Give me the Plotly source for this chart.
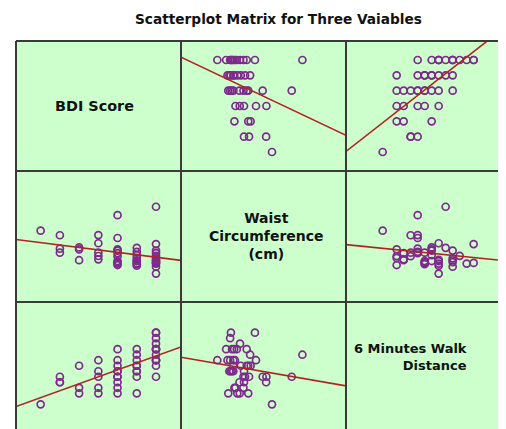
import numpy as np
import plotly.graph_objects as go

# ---- data ----
bdi = [1,
       2, 2, 2,
       3, 3, 3,
       4, 4, 4, 4, 4,
       5, 5, 5, 5, 5, 5, 5, 5, 5, 5,
       6, 6, 6, 6, 6, 6, 6, 6, 6,
       7, 7, 7, 7, 7, 7, 7, 7, 7, 7, 7, 7, 7]
waist = [94.5,
         92.3, 84.0, 85.9,
         85.6, 80.4, 86.5,
         82.4, 80.8, 92.4, 84.0, 88.5,
         78.1, 83.8, 82.3, 101.9, 91.0, 80.0, 85.6, 78.8, 85.0, 79.4,
         81.5, 84.4, 79.0, 82.8, 77.8, 86.3, 80.3, 80.0, 78.5,
         83.8, 85.0, 74.0, 80.0, 105.9, 77.3, 81.3, 82.5, 78.8, 88.1, 79.5, 80.6, 79.1]
walk = [320,
        400, 400, 420,
        360, 380, 460,
        360, 380, 420, 440, 480,
        360, 380, 400, 420, 420, 440, 460, 480, 520, 440,
        360, 420, 440, 460, 480, 500, 520, 460, 440,
        420, 460, 480, 480, 500, 520, 520, 540, 560, 580, 520, 480, 580]

title_text = "Scatterplot Matrix for Three Vaiables"

# ---- layout geometry (image pixel coords; page body adds an 8px offset) ----
OFF = 8
W, H = 498, 421
GRID_L, GRID_T = 16, 41
GRID_R, GRID_B = OFF + W, OFF + H
ML, MT = GRID_L - OFF, GRID_T - OFF
PW, PH = GRID_R - GRID_L, GRID_B - GRID_T


def px_to_paper_x(px):
    return (px - GRID_L) / PW


def py_to_paper_y(py):
    return (GRID_B - py) / PH


col_px = [(16, 181), (181, 346), (346, GRID_R)]
row_py = [(41, 171), (171, 302), (302, GRID_B)]

x_ranges = [[-0.283, 8.30], [60.375, 122.25], [215.2, 672.4]]
y_ranges = [[-0.241, 8.239], [60.46, 122.96], [230.5, 691.2]]

data_vars = [np.array(bdi, float), np.array(waist, float), np.array(walk, float)]

fig = go.Figure()
PURPLE = "#7E2A8C"
RED = "#B22222"
GREEN = "#CCFFCC"

# green background of whole matrix (diagonal panels included)
fig.add_shape(type="rect", xref="paper", yref="paper", x0=0, x1=1, y0=0, y1=1,
              fillcolor=GREEN, line=dict(width=0), layer="below")

for r in range(3):
    for c in range(3):
        idx = r * 3 + c + 1
        xa = "x" if idx == 1 else f"x{idx}"
        ya = "y" if idx == 1 else f"y{idx}"
        xname = "xaxis" if idx == 1 else f"xaxis{idx}"
        yname = "yaxis" if idx == 1 else f"yaxis{idx}"
        fig.layout[xname] = dict(
            domain=[px_to_paper_x(col_px[c][0]), px_to_paper_x(col_px[c][1])],
            range=x_ranges[c], showgrid=False, zeroline=False,
            showticklabels=False, ticks="", showline=False, anchor=ya,
        )
        fig.layout[yname] = dict(
            domain=[py_to_paper_y(row_py[r][1]), py_to_paper_y(row_py[r][0])],
            range=y_ranges[r], showgrid=False, zeroline=False,
            showticklabels=False, ticks="", showline=False, anchor=xa,
        )
        if r == c:
            continue
        xv = data_vars[c]
        yv = data_vars[r]
        fig.add_trace(go.Scatter(
            x=xv, y=yv, mode="markers", xaxis=xa, yaxis=ya,
            marker=dict(symbol="circle-open", size=7, color=PURPLE,
                        line=dict(width=1.7, color=PURPLE)),
            showlegend=False, hoverinfo="skip"))
        slope, icpt = np.polyfit(xv, yv, 1)
        lx = np.array(x_ranges[c])
        fig.add_trace(go.Scatter(
            x=lx, y=icpt + slope * lx, mode="lines", xaxis=xa, yaxis=ya,
            line=dict(color=RED, width=1.6), showlegend=False,
            hoverinfo="skip"))

# ---- panel borders ----
BORDER = "#3a3a3a"
for xpx in [16, 181, 346]:
    fig.add_shape(type="line", xref="paper", yref="paper",
                  x0=px_to_paper_x(xpx), x1=px_to_paper_x(xpx),
                  y0=0, y1=1, line=dict(color=BORDER, width=2))
for ypx in [41, 171, 302]:
    fig.add_shape(type="line", xref="paper", yref="paper",
                  x0=0, x1=1, y0=py_to_paper_y(ypx), y1=py_to_paper_y(ypx),
                  line=dict(color=BORDER, width=2))

FONT = "DejaVu Sans"


def label(text, px, py, size=14, align="center", xanchor="center"):
    fig.add_annotation(text=text, x=px_to_paper_x(px),
                       y=py_to_paper_y(py), xref="paper", yref="paper",
                       showarrow=False, xanchor=xanchor, yanchor="middle",
                       align=align,
                       font=dict(family=FONT, size=size, color="#111111",
                                 weight="bold"))


label(title_text, 278, 19, 13.7)
label("BDI Score", 94, 106, 14.4)
label("Waist<br>Circumference<br>(cm)", 266, 236, 14)
label("6 Minutes Walk<br>Distance", 469, 357, 13, align="right", xanchor="right")

fig.update_layout(
    width=W, height=H,
    margin=dict(l=ML, r=0, t=MT, b=0, pad=0),
    paper_bgcolor="white", plot_bgcolor=GREEN,
    showlegend=False,
)

fig.write_html("out.html")
